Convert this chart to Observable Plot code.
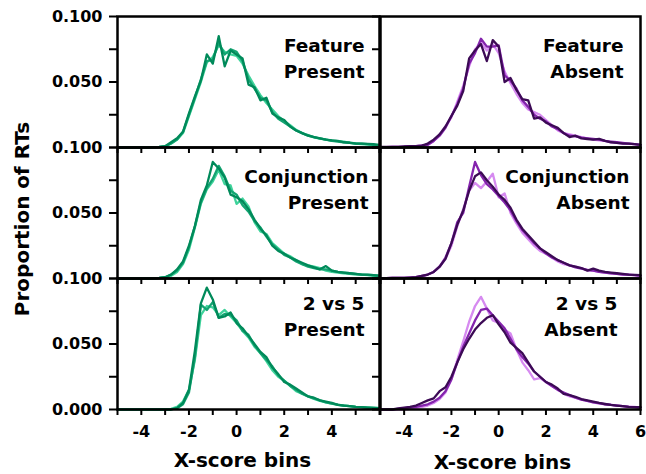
<!DOCTYPE html>
<html><head><meta charset="utf-8">
<script src="https://cdn.jsdelivr.net/npm/d3@7"></script>
<script src="https://cdn.jsdelivr.net/npm/@observablehq/plot@0.6"></script>
<style>
body{margin:0;background:#fff;}
#chart{position:relative;width:646px;height:474px;overflow:hidden;font-family:"DejaVu Sans";font-weight:bold;background:#fff;}
#chart svg{position:absolute;}
#ytitle{position:absolute;left:22px;top:219px;transform:translate(-50%,-50%) rotate(-90deg);font-size:20px;white-space:nowrap;color:#000;}
</style></head><body>
<div id="chart"><div id="ytitle">Proportion of RTs</div></div>
<script>
// X-score bin centres
const bins = [-5,-4.75,-4.5,-4.25,-4,-3.75,-3.5,-3.25,-3,-2.75,-2.5,-2.25,-2,-1.75,-1.5,-1.25,-1,-0.75,-0.5,-0.25,0,0.25,0.5,0.75,1,1.25,1.5,1.75,2,2.25,2.5,2.75,3,3.25,3.5,3.75,4,4.25,4.5,4.75,5,5.25,5.5,5.75,6];

const xTicks = [-5,-4,-3,-2,-1,0,1,2,3,4,5,6];
const xTickLabelsLeft = [-4,-2,0,2,4];
const xTickLabelsRight = [-4,-2,0,2,4,6];
const yTicks = [0,0.025,0.05,0.075,0.1];
const yTickLabels = [0.05,0.1];
const yTickLabelsBottom = [0,0.05,0.1];

const greens = ["#3fd39b","#14a472","#008a5a"];
const purples = ["#d68af0","#8424ad","#3c0a55"];

// Feature Present
const FP_light = [0,0,0,0,0,0,0.0001,0.0003,0.0005,0.003,0.006,0.011,0.024,0.037,0.050,0.065,0.069,0.078,0.073,0.071,0.070,0.064,0.055,0.047,0.040,0.034,0.029,0.024,0.020,0.017,0.0135,0.011,0.009,0.0078,0.0068,0.006,0.0052,0.0048,0.0044,0.0036,0.003,0.0025,0.0022,0.0018,0.0015];
const FP_medium = [0,0,0,0,0,0,0.0002,0.0005,0.001,0.003,0.006,0.012,0.025,0.038,0.052,0.066,0.067,0.080,0.071,0.075,0.073,0.066,0.052,0.045,0.038,0.036,0.027,0.022,0.019,0.016,0.013,0.011,0.0095,0.008,0.007,0.006,0.005,0.0045,0.004,0.0038,0.0032,0.003,0.0025,0.002,0.0015];
const FP_dark = [0,0,0,0,0,0,0.0002,0.0005,0.001,0.004,0.007,0.012,0.026,0.039,0.051,0.071,0.064,0.085,0.062,0.074,0.071,0.068,0.048,0.046,0.036,0.038,0.026,0.023,0.021,0.016,0.013,0.011,0.009,0.008,0.007,0.006,0.0055,0.005,0.004,0.0035,0.003,0.003,0.0028,0.0025,0.002];

// Feature Absent
const FA_light = [0.0003,0.0003,0.0004,0.0005,0.0006,0.0008,0.001,0.0015,0.002,0.005,0.010,0.016,0.023,0.035,0.047,0.062,0.075,0.080,0.074,0.079,0.072,0.058,0.049,0.041,0.034,0.029,0.027,0.025,0.021,0.017,0.013,0.011,0.010,0.009,0.008,0.007,0.006,0.0055,0.005,0.004,0.0035,0.003,0.0028,0.0025,0.002];
const FA_medium = [0.0003,0.0003,0.0004,0.0005,0.0006,0.0008,0.001,0.0015,0.002,0.005,0.009,0.015,0.024,0.033,0.045,0.064,0.072,0.083,0.077,0.077,0.078,0.055,0.051,0.045,0.036,0.031,0.025,0.022,0.020,0.016,0.014,0.011,0.009,0.0085,0.0075,0.007,0.0065,0.006,0.005,0.0045,0.004,0.0035,0.003,0.0025,0.002];
const FA_dark = [0.0005,0.0005,0.0005,0.0005,0.0008,0.001,0.001,0.0015,0.003,0.006,0.010,0.016,0.024,0.032,0.043,0.068,0.074,0.079,0.066,0.082,0.077,0.050,0.053,0.044,0.037,0.036,0.022,0.023,0.019,0.017,0.015,0.011,0.008,0.009,0.007,0.0065,0.006,0.0066,0.005,0.004,0.0035,0.003,0.003,0.0025,0.002];

// Conjunction Present
const CP_light = [0,0,0,0,0,0,0.0001,0.0003,0.0008,0.002,0.005,0.011,0.022,0.039,0.057,0.068,0.074,0.083,0.072,0.071,0.057,0.061,0.055,0.043,0.036,0.034,0.027,0.023,0.019,0.017,0.014,0.011,0.010,0.009,0.008,0.006,0.005,0.0045,0.004,0.0035,0.003,0.003,0.0025,0.002,0.002];
const CP_medium = [0,0,0,0,0,0,0.0002,0.0005,0.001,0.003,0.006,0.012,0.024,0.040,0.058,0.069,0.076,0.086,0.078,0.067,0.064,0.056,0.051,0.044,0.039,0.032,0.026,0.022,0.018,0.016,0.013,0.011,0.009,0.008,0.007,0.007,0.006,0.005,0.0045,0.004,0.0035,0.003,0.0028,0.0025,0.0022];
const CP_dark = [0,0,0,0,0,0,0.0002,0.0005,0.001,0.003,0.007,0.013,0.025,0.040,0.060,0.071,0.089,0.084,0.077,0.064,0.062,0.059,0.053,0.045,0.038,0.033,0.025,0.021,0.019,0.016,0.014,0.012,0.010,0.0085,0.007,0.0095,0.006,0.005,0.0045,0.004,0.0035,0.003,0.003,0.0025,0.002];

// Conjunction Absent
const CA_light = [0.0003,0.0003,0.0004,0.0005,0.0005,0.0007,0.001,0.0015,0.003,0.005,0.009,0.015,0.025,0.040,0.053,0.067,0.073,0.069,0.074,0.080,0.062,0.065,0.050,0.042,0.035,0.030,0.025,0.021,0.019,0.016,0.013,0.011,0.010,0.009,0.008,0.0065,0.006,0.005,0.0045,0.004,0.0035,0.003,0.0028,0.0025,0.002];
const CA_medium = [0.0003,0.0003,0.0004,0.0005,0.0005,0.0007,0.001,0.002,0.003,0.005,0.009,0.016,0.027,0.043,0.050,0.070,0.089,0.079,0.072,0.068,0.063,0.058,0.052,0.044,0.037,0.032,0.027,0.023,0.019,0.016,0.014,0.012,0.010,0.0085,0.0075,0.0065,0.006,0.005,0.0045,0.004,0.0035,0.003,0.003,0.0025,0.002];
const CA_dark = [0.0003,0.0003,0.0004,0.0005,0.0005,0.0007,0.001,0.002,0.003,0.005,0.009,0.015,0.027,0.041,0.052,0.067,0.078,0.081,0.075,0.070,0.064,0.060,0.054,0.045,0.038,0.033,0.028,0.023,0.020,0.017,0.014,0.012,0.010,0.009,0.008,0.006,0.0075,0.006,0.005,0.0045,0.004,0.0035,0.003,0.0028,0.0025];

// 2 vs 5 Present
const TP_light = [0,0,0,0,0,0,0,0,0,0.0005,0.002,0.006,0.015,0.038,0.072,0.079,0.078,0.072,0.076,0.071,0.066,0.060,0.055,0.048,0.043,0.037,0.030,0.025,0.022,0.018,0.014,0.012,0.010,0.008,0.0065,0.0055,0.0045,0.0035,0.003,0.0025,0.002,0.0018,0.0015,0.0012,0.001];
const TP_medium = [0,0,0,0,0,0,0,0,0,0,0.001,0.004,0.013,0.040,0.080,0.076,0.082,0.070,0.073,0.072,0.068,0.060,0.057,0.049,0.043,0.038,0.033,0.026,0.022,0.018,0.015,0.012,0.010,0.0085,0.007,0.0055,0.0045,0.0038,0.003,0.0025,0.002,0.0018,0.0015,0.0012,0.001];
const TP_dark = [0,0,0,0,0,0,0,0,0,0,0.001,0.005,0.015,0.045,0.081,0.093,0.084,0.070,0.071,0.074,0.066,0.062,0.056,0.050,0.044,0.040,0.032,0.027,0.021,0.019,0.016,0.013,0.010,0.009,0.007,0.006,0.005,0.0035,0.003,0.0025,0.002,0.0018,0.0015,0.0012,0.001];

// 2 vs 5 Absent
const TA_light = [0,0,0,0,0,0.0005,0.001,0.002,0.003,0.005,0.008,0.013,0.023,0.038,0.052,0.067,0.079,0.086,0.077,0.068,0.066,0.061,0.058,0.046,0.036,0.030,0.023,0.024,0.021,0.018,0.015,0.012,0.010,0.009,0.0075,0.0065,0.0055,0.0045,0.004,0.0035,0.003,0.0025,0.0022,0.002,0.0015];
const TA_medium = [0,0,0,0.0005,0.001,0.0015,0.002,0.003,0.004,0.006,0.009,0.014,0.023,0.036,0.048,0.058,0.068,0.076,0.077,0.072,0.067,0.062,0.054,0.046,0.040,0.035,0.029,0.025,0.021,0.018,0.015,0.013,0.011,0.009,0.0075,0.0065,0.0055,0.0048,0.004,0.0035,0.003,0.0025,0.002,0.0018,0.0015];
const TA_dark = [0,0,0,0.0008,0.0015,0.002,0.003,0.005,0.007,0.0085,0.014,0.017,0.025,0.036,0.046,0.054,0.061,0.066,0.070,0.072,0.065,0.059,0.051,0.047,0.043,0.036,0.029,0.025,0.021,0.019,0.016,0.012,0.011,0.0097,0.008,0.007,0.006,0.005,0.0042,0.0035,0.003,0.0025,0.002,0.0018,0.0017];

const panelTitles = ["Feature\nPresent","Feature\nAbsent","Conjunction\nPresent","Conjunction\nAbsent","2 vs 5\nPresent","2 vs 5\nAbsent"];
const xTitle = "X-score bins";

const fmt3 = d3.format(".3f");
const chart = document.getElementById("chart");

function panel(cfg){
  const marks = [];
  cfg.s.forEach((arr, k) => {
    const data = bins.map((x, i) => ({x, v: arr[i]}));
    marks.push(Plot.line(data, {x: "x", y: "v", stroke: cfg.colors[k], strokeWidth: 2.3, strokeLinejoin: "round"}));
  });
  marks.push(Plot.frame({stroke: "black", strokeWidth: 2.5}));
  marks.push(Plot.axisY({
    ticks: yTicks, tickSize: 8, tickPadding: 7, strokeWidth: 2, label: null, fontSize: 16,
    tickFormat: d => (cfg.yLabels && cfg.yLabels.includes(d)) ? fmt3(d) : ""
  }));
  marks.push(Plot.axisX({
    ticks: xTicks, tickSize: 6, tickPadding: 10, strokeWidth: 2, label: null, fontSize: 16,
    tickFormat: d => (cfg.xLabels && cfg.xLabels.includes(d)) ? String(d) : ""
  }));
  marks.push(Plot.text([cfg.title], {
    frameAnchor: "top-right", textAnchor: "end", lineAnchor: "top",
    dx: cfg.tdx, dy: cfg.tdy, fontSize: 18.5, fontWeight: "bold", lineHeight: 1.45, fill: "black"
  }));
  if (cfg.xTitle) {
    marks.push(Plot.text([xTitle], {
      frameAnchor: "bottom", textAnchor: "middle", lineAnchor: "middle",
      dx: cfg.xdx, dy: cfg.xdy, fontSize: 20, fontWeight: "bold", fill: "black"
    }));
  }
  const svg = Plot.plot({
    width: cfg.width, height: cfg.height,
    marginLeft: cfg.ml, marginRight: cfg.mr, marginTop: cfg.mt, marginBottom: cfg.mb,
    x: {domain: [-5, 6], axis: null, label: null},
    y: {domain: [0, 0.1], axis: null, label: null},
    style: {fontFamily: "DejaVu Sans", fontWeight: "bold", fontSize: "16px", background: "transparent", overflow: "visible", color: "black"},
    marks
  });
  svg.style.left = cfg.left + "px";
  svg.style.top = cfg.top + "px";
  chart.appendChild(svg);
}

const L = {left: 0, width: 379, ml: 117, mr: 0};
const R = {left: 360, width: 286, ml: 20, mr: 6};

panel({...L, top: 0, height: 157, mt: 16, mb: 10, s: [FP_light, FP_medium, FP_dark], colors: greens, title: panelTitles[0], tdx: -15, tdy: 16, yLabels: yTickLabels});
panel({...R, top: 0, height: 157, mt: 16, mb: 10, s: [FA_light, FA_medium, FA_dark], colors: purples, title: panelTitles[1], tdx: -17, tdy: 16});
panel({...L, top: 137, height: 151, mt: 10, mb: 10, s: [CP_light, CP_medium, CP_dark], colors: greens, title: panelTitles[2], tdx: -11, tdy: 16, yLabels: yTickLabels});
panel({...R, top: 137, height: 151, mt: 10, mb: 10, s: [CA_light, CA_medium, CA_dark], colors: purples, title: panelTitles[3], tdx: -11, tdy: 16});
panel({...L, top: 268, height: 206, mt: 10, mb: 65, s: [TP_light, TP_medium, TP_dark], colors: greens, title: panelTitles[4], tdx: -15, tdy: 12, yLabels: yTickLabelsBottom, xLabels: xTickLabelsLeft, xTitle: true, xdx: -6, xdy: 51});
panel({...R, top: 268, height: 206, mt: 10, mb: 65, s: [TA_light, TA_medium, TA_dark], colors: purples, title: panelTitles[5], tdx: -23, tdy: 12, xLabels: xTickLabelsRight, xTitle: true, xdx: -8, xdy: 53});
</script>
</body></html>
